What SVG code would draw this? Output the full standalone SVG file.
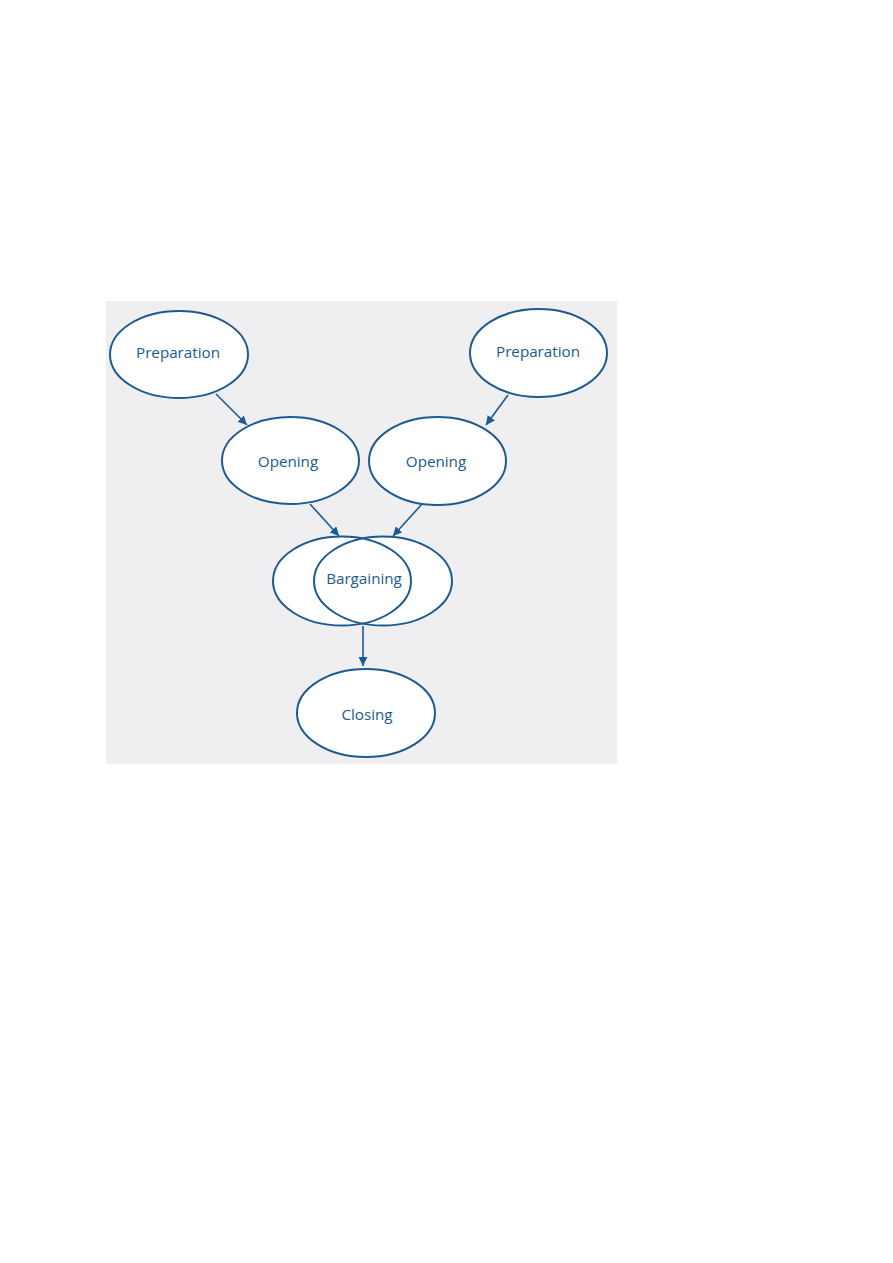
<svg xmlns="http://www.w3.org/2000/svg" width="893" height="1263" viewBox="0 0 893 1263">
<style>
.n{fill:#ffffff;stroke:#1d5a8f;stroke-width:2}
.o{fill:none;stroke:#1d5a8f;stroke-width:2}
.t{font-family:"Open Sans","Noto Sans",sans-serif;font-size:15.2px;fill:#1b5a8c;text-anchor:middle;dominant-baseline:central}
.c{stroke:#1d5a8f;stroke-width:1.6;fill:none;marker-end:url(#ah)}
</style>
<defs>
<marker id="ah" viewBox="0 0 10 10" refX="10" refY="5" markerWidth="9" markerHeight="9" markerUnits="userSpaceOnUse" orient="auto">
<path d="M0,0 L10,5 L0,10 z" fill="#1d5a8f"/>
</marker>
</defs>
<rect width="893" height="1263" fill="#ffffff"/>
<rect x="106" y="301" width="511" height="463" fill="#efeff1"/>
<g id="connectors">
<line class="c" x1="216" y1="394" x2="247" y2="425"/>
<line class="c" x1="508" y1="395" x2="486" y2="425"/>
<line class="c" x1="310" y1="504" x2="339" y2="536"/>
<line class="c" x1="422" y1="504" x2="393" y2="536"/>
<line class="c" x1="363" y1="626" x2="363" y2="666"/>
</g>
<g id="prep-left"><ellipse class="n" cx="179" cy="354.5" rx="69" ry="43.5"/><text class="t" x="178" y="352">Preparation</text></g>
<g id="prep-right"><ellipse class="n" cx="538.5" cy="353" rx="68.5" ry="44"/><text class="t" x="538" y="351">Preparation</text></g>
<g id="open-left"><ellipse class="n" cx="290.5" cy="460.5" rx="68.5" ry="43.5"/><text class="t" x="288" y="461">Opening</text></g>
<g id="open-right"><ellipse class="n" cx="437.5" cy="461" rx="68.5" ry="44"/><text class="t" x="436" y="461">Opening</text></g>
<g id="bargaining">
<ellipse cx="342" cy="581" rx="69" ry="44.5" fill="#ffffff"/>
<ellipse cx="383" cy="581" rx="69" ry="44.5" fill="#ffffff"/>
<ellipse class="o" cx="342" cy="581" rx="69" ry="44.5"/>
<ellipse class="o" cx="383" cy="581" rx="69" ry="44.5"/>
<text class="t" x="364" y="578">Bargaining</text>
</g>
<g id="closing"><ellipse class="n" cx="366" cy="713" rx="69" ry="44"/><text class="t" x="367" y="714">Closing</text></g>
</svg>
